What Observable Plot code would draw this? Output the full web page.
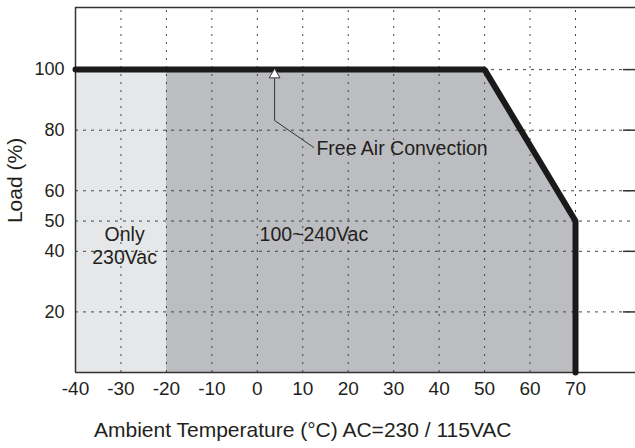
<!DOCTYPE html>
<html>
<head>
<meta charset="utf-8">
<script src="https://cdn.jsdelivr.net/npm/d3@7"></script>
<script src="https://cdn.jsdelivr.net/npm/@observablehq/plot@0.6"></script>
<style>
  html, body { margin: 0; padding: 0; background: #fff; }
  #chart svg { display: block; }
</style>
</head>
<body>
<div id="chart"></div>
<script>
// ---- data ----
const xDomain = [-40, 83.2];
const yDomain = [0, 120.5];
const xTicks = [-40, -30, -20, -10, 0, 10, 20, 30, 40, 50, 60, 70];
const xGrid = [-30, -20, -10, 0, 10, 20, 30, 40, 50, 60, 70];
const yTicks = [20, 40, 50, 60, 80, 100];
const rightTicks = [20, 40, 60, 80, 100];

// derating curve
const curveTemp = [-40, 50, 70, 70];
const curveLoad = [100, 100, 50, 0];

// dark region (100~240Vac)
const darkTemp = [-20, 50, 70];
const darkLoad = [100, 100, 50];

// light region (Only 230Vac)
const lightTemp = [-40, -20];
const lightLoad = 100;

// annotation arrow path
const arrowTemp = [3.8, 3.8, 12.4];
const arrowLoad = [97, 83.2, 74.3];
const arrowHead = {temp: 3.8, load: 98.3};

const centerLabels = [
  {temp: -29.2, load: 45.6, text: "Only"},
  {temp: -29.2, load: 37.8, text: "230Vac"}
];
const startLabels = [
  {temp: 0.5, load: 45.6, text: "100~240Vac"},
  {temp: 13.0, load: 73.9, text: "Free Air Convection"}
];

const xLabel = "Ambient Temperature (°C) AC=230 / 115VAC";
const xLabelTemp = 10;
const yLabel = "Load (%)";
const yLabelLoad = 63.4;

const curve = curveTemp.map((t, i) => ({t, l: curveLoad[i]}));
const dark = darkTemp.map((t, i) => ({t, l: darkLoad[i]}));
const arrowPath = arrowTemp.map((t, i) => ({t, l: arrowLoad[i]}));

const font = "'Liberation Sans', Arial, Helvetica, sans-serif";
const ink = "#231f20";

const chart = Plot.plot({
  width: 635,
  height: 448,
  marginLeft: 75,
  marginRight: 0,
  marginTop: 7,
  marginBottom: 76,
  style: {fontFamily: font, fontSize: "18px", color: ink, background: "#fff"},
  x: {domain: xDomain},
  y: {domain: yDomain},
  marks: [
    Plot.rect([lightLoad], {x1: lightTemp[0], x2: lightTemp[1], y1: 0, y2: d => d, fill: "#e6e7e8"}),
    Plot.areaY(dark, {x: "t", y: "l", y1: 0, fill: "#bcbdc0"}),
    Plot.ruleX(xGrid, {y1: yDomain[0], y2: yDomain[1], stroke: "#444", strokeWidth: 1, strokeDasharray: "2,6"}),
    Plot.ruleY(yTicks, {x1: xDomain[0], x2: xDomain[1], stroke: "#444", strokeWidth: 1, strokeDasharray: "3,5"}),
    Plot.tickY(rightTicks, {stroke: "#333", strokeWidth: 1.5, insetLeft: 548}),
    Plot.ruleY([yDomain[1]], {stroke: "#333", strokeWidth: 1.5}),
    Plot.ruleX([xDomain[0]], {stroke: "#333", strokeWidth: 1.5}),
    Plot.ruleY([0], {stroke: "#333", strokeWidth: 1.5}),
    Plot.line(curve, {x: "t", y: "l", stroke: "#1a1a1a", strokeWidth: 6, strokeLinejoin: "miter"}),
    Plot.line(arrowPath, {x: "t", y: "l", stroke: "#333", strokeWidth: 1}),
    Plot.dot([arrowHead], {x: "temp", y: "load", symbol: "triangle", r: 4, fill: "#fff", stroke: "#333", strokeWidth: 1}),
    Plot.text(centerLabels, {x: "temp", y: "load", text: "text", textAnchor: "middle", fill: ink, fontSize: 19.5}),
    Plot.text(startLabels, {x: "temp", y: "load", text: "text", textAnchor: "start", fill: ink, fontSize: 19.5}),
    Plot.axisX(xTicks, {tickSize: 0, tickPadding: 9, label: null, fontSize: 19, fill: ink, tickFormat: d => String(d)}),
    Plot.axisY(yTicks, {tickSize: 0, tickPadding: 11, label: null, fontSize: 18, fill: ink, tickFormat: d => String(d)}),
    Plot.text([yLabel], {y: yLabelLoad, frameAnchor: "left", dx: -60, rotate: -90, textAnchor: "middle", lineAnchor: "middle", text: d => d, fontSize: 21, fill: ink}),
    Plot.text([xLabel], {x: xLabelTemp, frameAnchor: "bottom", dy: 64, text: d => d, fontSize: 21, fill: ink})
  ]
});
document.getElementById("chart").appendChild(chart);
</script>
</body>
</html>
